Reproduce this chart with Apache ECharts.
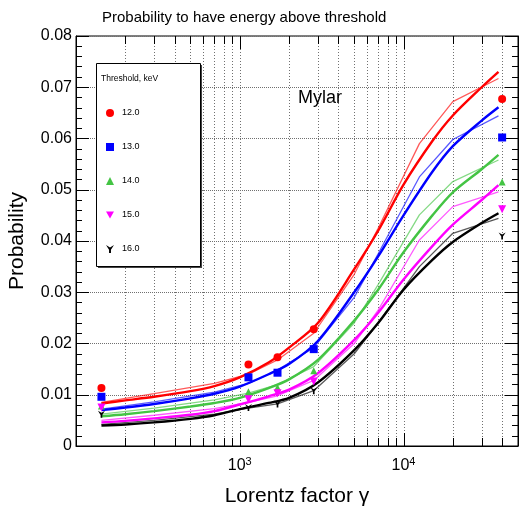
<!DOCTYPE html>
<html><head><meta charset="utf-8">
<script src="https://cdn.jsdelivr.net/npm/echarts@6/dist/echarts.min.js"></script>
<style>html,body{margin:0;padding:0;background:#fff}#c{width:519px;height:507px}</style>
</head><body><div id="c"></div>
<script>
// ---- data ----
const thresholds = ['12.0', '13.0', '14.0', '15.0', '16.0'];
const gammaFit = [143, 200, 300, 500, 700, 1000, 1500, 2000, 3000, 5000, 7000, 10000, 15000, 20000, 30000, 38000];
const fit12 = [0.0083, 0.0089, 0.0096, 0.0107, 0.0117, 0.0134, 0.0163, 0.0192, 0.0240, 0.0345, 0.0420, 0.0510, 0.0595, 0.0645, 0.0700, 0.0730];
const fit13 = [0.0070, 0.0075, 0.0082, 0.0093, 0.0102, 0.0116, 0.0140, 0.0160, 0.0205, 0.0300, 0.0370, 0.0450, 0.0535, 0.0585, 0.0635, 0.0661];
const fit14 = [0.0058, 0.0062, 0.0068, 0.0077, 0.0084, 0.0094, 0.0113, 0.0130, 0.0168, 0.0245, 0.0305, 0.0378, 0.0450, 0.0495, 0.0540, 0.0568];
const fit15 = [0.0046, 0.0049, 0.0054, 0.0061, 0.0068, 0.0081, 0.0097, 0.0110, 0.0142, 0.0207, 0.0260, 0.0325, 0.0390, 0.0432, 0.0480, 0.0509];
const fit16 = [0.0040, 0.0042, 0.0046, 0.0053, 0.0060, 0.0072, 0.0084, 0.0094, 0.0124, 0.0187, 0.0240, 0.0305, 0.0363, 0.0398, 0.0435, 0.0454];

const gammaThin = [143, 300, 700, 1130, 1700, 2830, 5000, 7000, 12500, 20000, 38000];
const thin12 = [0.0085, 0.0102, 0.0122, 0.0140, 0.0168, 0.0220, 0.0335, 0.0425, 0.0590, 0.0672, 0.0717];
const thin13 = [0.0072, 0.0086, 0.0105, 0.0122, 0.0148, 0.0192, 0.0290, 0.0375, 0.0525, 0.0598, 0.0644];
const thin14 = [0.0062, 0.0074, 0.0090, 0.0103, 0.0120, 0.0155, 0.0240, 0.0315, 0.0451, 0.0516, 0.0558];
const thin15 = [0.0050, 0.0060, 0.0073, 0.0085, 0.0098, 0.0128, 0.0200, 0.0265, 0.0402, 0.0467, 0.0496];
const thin16 = [0.0042, 0.0050, 0.0062, 0.0074, 0.0082, 0.0108, 0.0180, 0.0240, 0.0350, 0.0415, 0.0444];

const gammaPts = [143, 1130, 1700, 2830, 40000];
const pts12 = [0.0113, 0.0159, 0.0173, 0.0228, 0.0677];
const pts13 = [0.0096, 0.0134, 0.0143, 0.0189, 0.0602];
const pts14 = [0.0078, 0.0106, 0.0114, 0.0147, 0.0515];
const pts15 = [0.0075, 0.0091, 0.0103, 0.0126, 0.0462];
const pts16 = [0.0062, 0.0075, 0.0082, 0.0108, 0.0410];

const xMajorTicks = [1000, 10000];
const xMinorTicks = [200, 300, 400, 500, 600, 700, 800, 900, 2000, 3000, 4000, 5000, 6000, 7000, 8000, 9000, 20000, 30000, 40000];
const xTickLabels = {1000: '{b|10}{s|3}', 10000: '{b|10}{s|4}'};

// ---- styles ----
const colors = ['#ff0000', '#0000ff', '#44c444', '#ff00ff', '#000000'];
const symbols = ['circle', 'rect', 'triangle', 'path://M0,0 L10,0 L5,9 Z',
  'path://M0,0 L5,3 L10,0 L6.2,6 L6.2,10 L3.8,10 L3.8,6 Z'];
const symSizes = [8, 8, 7, 8, 7];
const fits = [fit12, fit13, fit14, fit15, fit16];
const thins = [thin12, thin13, thin14, thin15, thin16];
const pts = [pts12, pts13, pts14, pts15, pts16];
const FONT = 'Liberation Sans';
const GRIDC = '#707070';
const X0 = 100, X1 = 50000, Y0 = 0, Y1 = 0.08;

const series = [];
// vertical dotted grid lines + tick marks on bottom and top frame
series.push({
  type: 'custom', name: 'xgrid', silent: true, z: 1,
  dimensions: ['g', 'p', 'len'],
  encode: {x: 0, y: 1},
  data: xMajorTicks.map(v => [v, 0, 13]).concat(xMinorTicks.map(v => [v, 0, 8])),
  renderItem: function (params, api) {
    const v = api.value(0), len = api.value(2);
    const b = api.coord([v, Y0]), t = api.coord([v, Y1]);
    const x = Math.round(b[0]) + 0.5;
    return {type: 'group', children: [
      {type: 'line', shape: {x1: x, y1: b[1], x2: x, y2: t[1]}, style: {stroke: GRIDC, lineWidth: 1, lineDash: [1, 2]}},
      {type: 'line', z2: 10, shape: {x1: x, y1: b[1], x2: x, y2: b[1] - len}, style: {stroke: '#000', lineWidth: 1}},
      {type: 'line', z2: 10, shape: {x1: x, y1: t[1], x2: x, y2: t[1] + len}, style: {stroke: '#000', lineWidth: 1}}
    ]};
  }
});
for (let i = 0; i < 5; i++) {
  series.push({
    type: 'line', name: 'thin' + thresholds[i], symbol: 'none', smooth: false, z: 3,
    lineStyle: {color: colors[i], width: 1.3, opacity: 0.65},
    data: gammaThin.map((g, k) => [g, thins[i][k]])
  });
  series.push({
    type: 'line', name: 'fit' + thresholds[i], symbol: 'none', smooth: 0.3, z: 4,
    lineStyle: {color: colors[i], width: 2.4},
    data: gammaFit.map((g, k) => [g, fits[i][k]])
  });
  series.push({
    type: 'scatter', name: thresholds[i], symbol: symbols[i], symbolSize: symSizes[i], z: 5,
    itemStyle: {color: colors[i], opacity: 1},
    data: gammaPts.map((g, k) => [g, pts[i][k]])
  });
}

const chart = echarts.init(document.getElementById('c'), null, {renderer: 'canvas'});
chart.setOption({
  animation: false,
  backgroundColor: '#fff',
  textStyle: {fontFamily: FONT},
  title: {
    text: 'Probability to have energy above threshold', left: 97, top: 5,
    textStyle: {fontFamily: FONT, fontSize: 15, fontWeight: 'normal', color: '#000'}
  },
  grid: {left: 76, right: 1, top: 36, bottom: 61, show: true, borderColor: '#000', borderWidth: 1,
    containLabel: false, outerBoundsMode: 'none'},
  legend: {
    data: thresholds, orient: 'vertical', left: 106, top: 108, itemGap: 24,
    itemWidth: 8, itemHeight: 8, padding: 0, z: 300, selectedMode: false,
    textStyle: {fontFamily: FONT, fontSize: 9, color: '#000', lineHeight: 10, padding: [0, 0, 0, 3]}
  },
  graphic: [
    {type: 'rect', z: 100, shape: {x: 98, y: 65, width: 104, height: 203}, style: {fill: '#444'}},
    {type: 'rect', z: 101, shape: {x: 96.5, y: 63.5, width: 104, height: 203}, style: {fill: '#fff', stroke: '#000', lineWidth: 1}},
    {type: 'text', z: 102, left: 101, top: 74, style: {text: 'Threshold, keV', fontFamily: FONT, fontSize: 8.5, fill: '#000'}},
    {type: 'text', z: 102, left: 298, top: 89, style: {text: 'Mylar', fontFamily: FONT, fontSize: 18, fill: '#000'}}
  ],
  xAxis: {
    type: 'log', logBase: 10, min: X0, max: X1,
    name: 'Lorentz factor γ', nameLocation: 'middle', nameGap: 40,
    nameTextStyle: {fontFamily: FONT, fontSize: 21, color: '#000'},
    axisLine: {show: true, lineStyle: {color: '#000'}},
    axisTick: {show: false},
    splitLine: {show: false},
    minorTick: {show: false}, minorSplitLine: {show: false},
    axisLabel: {
      margin: 10, color: '#000', fontFamily: FONT,
      formatter: v => xTickLabels[Math.round(v)] || '',
      rich: {
        b: {fontSize: 16, fontFamily: FONT, color: '#000'},
        s: {fontSize: 11, fontFamily: FONT, color: '#000', padding: [0, 0, 9, 0]}
      }
    }
  },
  yAxis: [{
    type: 'value', min: Y0, max: Y1, interval: 0.01,
    name: 'Probability', nameLocation: 'middle', nameGap: 48,
    nameTextStyle: {fontFamily: FONT, fontSize: 21, color: '#000'},
    axisLine: {show: true, lineStyle: {color: '#000'}},
    axisTick: {show: true, inside: true, length: 13, lineStyle: {color: '#000'}},
    minorTick: {show: true, splitNumber: 5, length: 6, lineStyle: {color: '#000'}},
    splitLine: {show: true, lineStyle: {color: GRIDC, type: 'dotted', width: 1}},
    axisLabel: {margin: 4, fontSize: 16, fontFamily: FONT, color: '#000', formatter: v => v === 0 ? '0' : v.toFixed(2)}
  }, {
    type: 'value', min: Y0, max: Y1, interval: 0.01, position: 'right',
    axisLine: {show: true, lineStyle: {color: '#000'}},
    axisTick: {show: true, inside: true, length: 13, lineStyle: {color: '#000'}},
    minorTick: {show: true, splitNumber: 5, length: 6, lineStyle: {color: '#000'}},
    splitLine: {show: false},
    axisLabel: {show: false}
  }],
  series: series
});
</script></body></html>
